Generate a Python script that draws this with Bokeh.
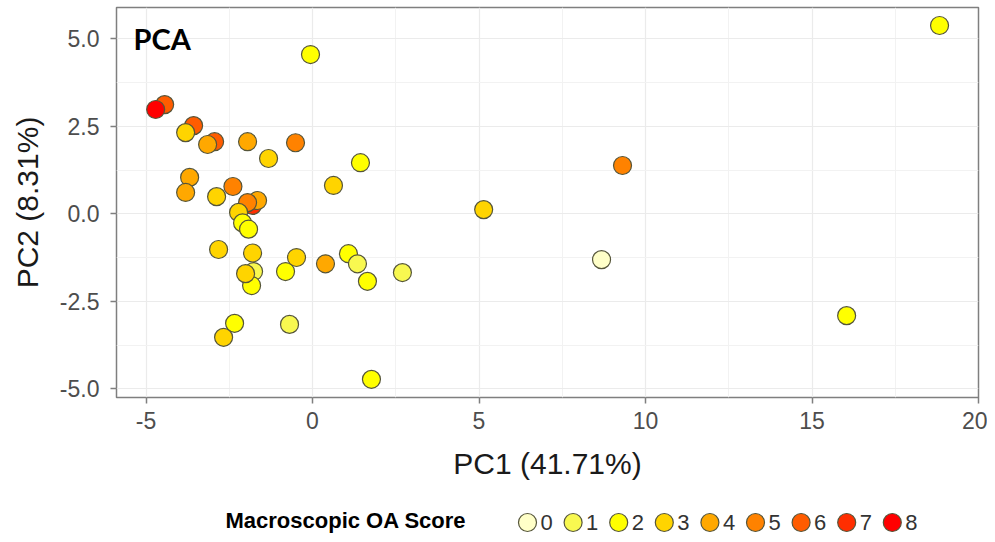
from bokeh.plotting import figure
from bokeh.layouts import column
from bokeh.models import (ColumnDataSource, FixedTicker, Label)
from bokeh.core.properties import value
from bokeh.embed import file_html
from bokeh.resources import INLINE

# ---- data ----
pc1 = [-4.44, -4.71, -3.57, -3.81, -2.94, -3.15, -1.95, -0.51, -1.32, -3.69,
       -3.81, -2.88, -2.39, -1.80, -1.65, -1.95, -2.22, -2.10, -1.92,
       1.44, 0.63, -0.06, 5.14, 9.31, 8.68, 18.83, 16.04,
       -2.82, -1.80, -1.77, -1.83, -2.01, -0.81, -0.48, 0.39, 1.08, 1.35,
       1.65, 2.70, -2.34, -2.67, -0.69, 1.77]
pc2 = [3.12, 2.98, 2.52, 2.32, 2.06, 1.98, 2.06, 2.03, 1.58, 1.04,
       0.61, 0.49, 0.78, 0.24, 0.38, 0.32, 0.04, -0.26, -0.44,
       1.46, 0.81, 4.55, 0.12, 1.38, -1.31, 5.38, -2.91,
       -1.02, -1.12, -1.65, -2.05, -1.71, -1.65, -1.25, -1.43, -1.14, -1.43,
       -1.93, -1.68, -3.13, -3.53, -3.16, -4.73]
score = [6, 8, 6, 3, 6, 4, 4, 5, 3, 4,
         4, 3, 5, 7, 4, 5, 3, 2, 2,
         2, 3, 2, 3, 5, 0, 2, 2,
         3, 3, 1, 2, 3, 2, 3, 4, 2, 1,
         2, 1, 2, 3, 1, 2]
score_levels = ["0", "1", "2", "3", "4", "5", "6", "7", "8"]
score_colors = ["#FFFFC8", "#F8F850", "#FFFF00", "#FFD400", "#FFA800",
                "#FF8200", "#FF5C00", "#FF2E00", "#FF0000"]
x_ticks = [-5, 0, 5, 10, 15, 20]
x_minor = [-2.5, 2.5, 7.5, 12.5, 17.5]
y_ticks = [-5, -2.5, 0, 2.5, 5]
y_minor = [-3.75, -1.25, 1.25, 3.75]
y_tick_labels = ["-5.0", "-2.5", "0.0", "2.5", "5.0"]

EDGE = "#55553a"
W = 987

src = ColumnDataSource(dict(x=pc1, y=pc2, c=[score_colors[s] for s in score]))

p = figure(width=W, height=484, output_backend="svg", toolbar_location=None,
           x_range=(-5.886, 20.0), y_range=(-5.249, 5.894),
           min_border_left=116, min_border_right=9, min_border_top=7,
           min_border_bottom=87)
p.background_fill_color = "white"
p.outline_line_color = "#7f7f7f"
p.outline_line_width = 1.5

p.scatter("x", "y", source=src, size=18, fill_color="c", line_color=EDGE, line_width=1.2)

for ax in (p.xaxis[0], p.yaxis[0]):
    ax.axis_line_color = None
    ax.major_tick_line_color = "#7f7f7f"
    ax.major_tick_line_width = 1.5
    ax.major_tick_out = 6
    ax.major_tick_in = 0
    ax.minor_tick_line_color = None
    ax.major_label_text_font = "Liberation Sans"
    ax.major_label_text_font_size = "23px"
    ax.major_label_text_color = "#4d4d4d"
    ax.axis_label_text_font = "Liberation Sans"
    ax.axis_label_text_font_size = "30px"
    ax.axis_label_text_font_style = "normal"
    ax.axis_label_text_color = "#1a1a1a"

p.xaxis.ticker = FixedTicker(ticks=x_ticks, minor_ticks=x_minor)
p.yaxis.ticker = FixedTicker(ticks=y_ticks, minor_ticks=y_minor)
p.xaxis.major_label_overrides = {t: str(t) for t in x_ticks}
p.yaxis.major_label_overrides = {t: l for t, l in zip(y_ticks, y_tick_labels)}
p.xaxis.axis_label = "PC1 (41.71%)"
p.yaxis.axis_label = "PC2 (8.31%)"
p.xaxis.major_label_standoff = 8
p.yaxis.major_label_standoff = 11
p.xaxis.axis_label_standoff = 15
p.yaxis.axis_label_standoff = 13

for g in (p.xgrid[0], p.ygrid[0]):
    g.grid_line_color = "#ebebeb"
    g.grid_line_width = 1.2
    g.minor_grid_line_color = "#f2f2f2"
    g.minor_grid_line_width = 1

p.add_layout(Label(x=-5.375, y=5.02, text="PCA", text_font="Lato",
                   text_font_style="bold", text_font_size="29px",
                   text_color="black", text_baseline="middle"))

# ---- legend strip (its frame is aligned with the main frame: 116..978 px) ----
LH = 50
leg = figure(width=W, height=LH, output_backend="svg", toolbar_location=None,
             x_range=(116, 978), y_range=(0, LH), min_border=0,
             x_axis_type=None, y_axis_type=None)
leg.outline_line_color = None
leg.xgrid.visible = False
leg.ygrid.visible = False

n = len(score_levels)
key_x = [527 + 45.6 * i for i in range(n)]
key_y = [12] * n
leg_src = ColumnDataSource(dict(x=key_x, y=key_y, c=score_colors, t=score_levels,
                                tx=[k + 13 for k in key_x]))
leg.scatter("x", "y", source=leg_src, size=18, fill_color="c",
            line_color=EDGE, line_width=1.2)
leg.text("tx", "y", text="t", source=leg_src, text_font=value("Liberation Sans"),
         text_font_size="22px", text_color="#333333", text_baseline="middle",
         text_align="left")

leg.add_layout(Label(x=225, y=14, text="Macroscopic OA Score", text_font="Liberation Sans",
                     text_font_style="bold", text_font_size="22px",
                     text_color="black", text_baseline="middle", text_align="left"))

open("out.html", "w").write(file_html(column(p, leg, spacing=0), INLINE))
